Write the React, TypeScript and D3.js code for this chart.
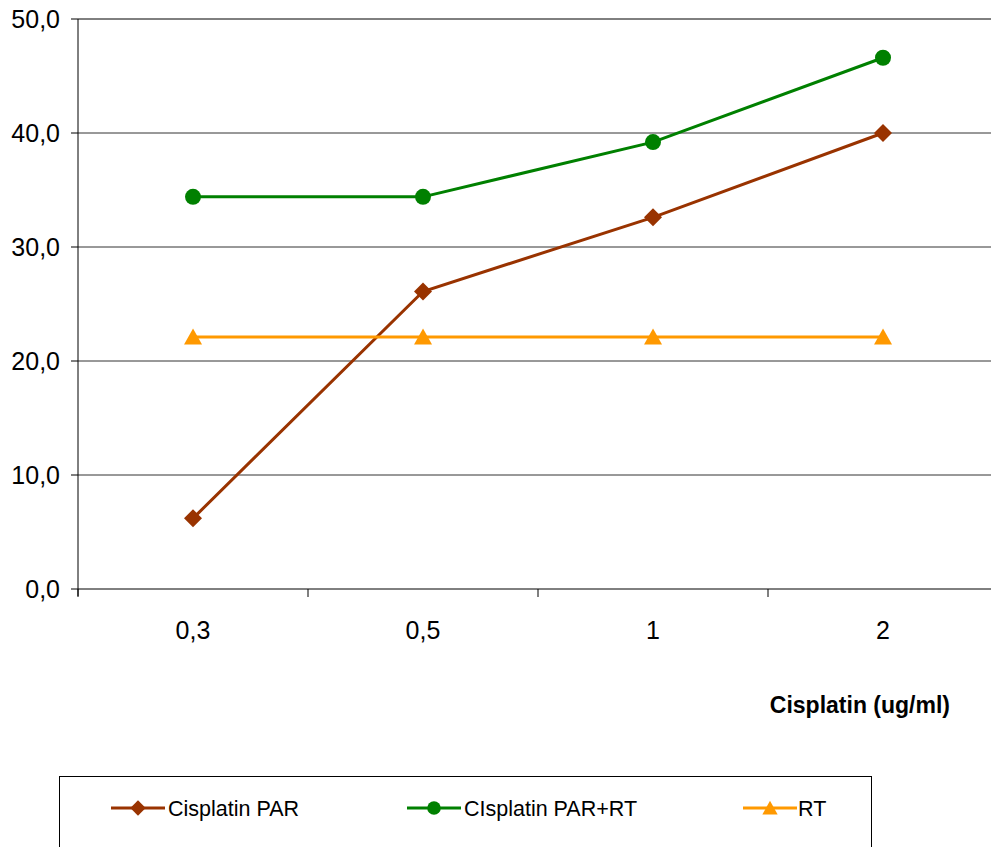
import React from "react";
import * as d3 from "d3";

const categories = ["0,3", "0,5", "1", "2"];
const parValues = [6.2, 26.1, 32.6, 40.0];
const parRtValues = [34.4, 34.4, 39.2, 46.6];
const rtValues = [22.1, 22.1, 22.1, 22.1];
const yTicks = [0, 10, 20, 30, 40, 50];
const seriesNames = ["Cisplatin PAR", "CIsplatin PAR+RT", "RT"];

const W = 991;
const H = 847;
const FONT = "'Liberation Sans', Arial, sans-serif";

export default function App() {
  const x = d3.scaleBand<string>().domain(categories).range([78, 998]).padding(0);
  const y = d3.scaleLinear().domain([0, 50]).range([589, 19]);
  const line = d3
    .line<number>()
    .x((_, i) => (x(categories[i]) as number) + x.bandwidth() / 2)
    .y((d) => y(d));

  const series = [
    { name: seriesNames[0], values: parValues, color: "#993300", shape: "diamond" },
    { name: seriesNames[1], values: parRtValues, color: "#008000", shape: "circle" },
    { name: seriesNames[2], values: rtValues, color: "#FF9900", shape: "triangle" },
  ];

  const marker = (shape: string, cx: number, cy: number, color: string, key: any, s = 1) => {
    if (shape === "diamond") {
      const r = 9 * s;
      return (
        <path key={key} d={`M${cx},${cy - r}L${cx + r},${cy}L${cx},${cy + r}L${cx - r},${cy}Z`} fill={color} />
      );
    }
    if (shape === "circle") {
      return <circle key={key} cx={cx} cy={cy} r={8 * s} fill={color} />;
    }
    const h = 15 * s;
    const w = 9 * s;
    return (
      <path key={key} d={`M${cx},${cy - h / 2 - 1}L${cx + w},${cy + h / 2}L${cx - w},${cy + h / 2}Z`} fill={color} />
    );
  };

  const boundaries = [...categories.map((c) => x(c) as number), 998];

  const legendItems = [
    { x: 111, textX: 168 },
    { x: 407, textX: 464 },
    { x: 743, textX: 798 },
  ];

  return (
    <svg
      width={W}
      height={H}
      style={{ position: "absolute", left: 0, top: 0, background: "#fff" }}
      fontFamily={FONT}
    >
      <rect x={0} y={0} width={W} height={H} fill="#fff" />
      {yTicks.map((t) => (
        <line
          key={t}
          x1={78}
          x2={998}
          y1={y(t)}
          y2={y(t)}
          stroke={t === 0 || t === 50 ? "#000" : "#333"}
          strokeWidth={1}
        />
      ))}
      <line x1={78} x2={78} y1={19} y2={596} stroke="#000" strokeWidth={1} />
      {yTicks.map((t) => (
        <g key={"yt" + t}>
          <line x1={71} x2={78} y1={y(t)} y2={y(t)} stroke="#000" />
          <text x={60} y={y(t)} dy="0.36em" textAnchor="end" fontSize={25} fill="#000">
            {d3.format(".1f")(t).replace(".", ",")}
          </text>
        </g>
      ))}
      {boundaries.map((b, i) => (
        <line key={"xt" + i} x1={b} x2={b} y1={589} y2={597} stroke="#000" />
      ))}
      {categories.map((c) => (
        <text
          key={c}
          x={(x(c) as number) + x.bandwidth() / 2}
          y={639}
          textAnchor="middle"
          fontSize={25}
          fill="#000"
        >
          {c}
        </text>
      ))}
      <text x={950} y={713} textAnchor="end" fontSize={23} fontWeight="bold" fill="#000">
        Cisplatin (ug/ml)
      </text>
      {series.map((s) => (
        <g key={s.name}>
          <path d={line(s.values) || ""} fill="none" stroke={s.color} strokeWidth={3} />
          {s.values.map((v, i) =>
            marker(s.shape, (x(categories[i]) as number) + x.bandwidth() / 2, y(v), s.color, i)
          )}
        </g>
      ))}
      <rect x={59.5} y={776.5} width={812} height={100} fill="none" stroke="#000" strokeWidth={1} />
      {series.map((s, i) => (
        <g key={"lg" + i}>
          <line x1={legendItems[i].x} x2={legendItems[i].x + 54} y1={808} y2={808} stroke={s.color} strokeWidth={3} />
          {marker(s.shape, legendItems[i].x + 27, 808, s.color, "m", 0.85)}
          <text x={legendItems[i].textX} y={808} dy="0.36em" fontSize={21.5} fill="#000">
            {s.name}
          </text>
        </g>
      ))}
    </svg>
  );
}
